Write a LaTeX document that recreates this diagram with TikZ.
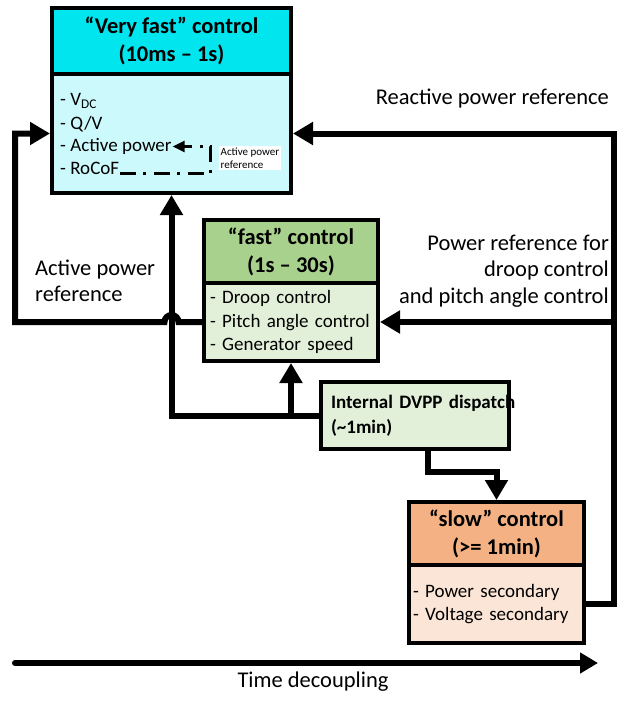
\documentclass[tikz,border=0pt]{standalone}
\usepackage{fontspec}
\setmainfont{Carlito}
\usetikzlibrary{arrows.meta,calc}

\definecolor{vfhead}{HTML}{00E5EE}
\definecolor{vfbody}{HTML}{CCFAFC}
\definecolor{fhead}{HTML}{A9D18E}
\definecolor{fbody}{HTML}{E2F0D9}
\definecolor{shead}{HTML}{F4B183}
\definecolor{sbody}{HTML}{FBE5D6}

\newcommand{\sizeTitle}{\fontsize{22.5}{28}\selectfont}
\newcommand{\sizeLbl}{\fontsize{22.5}{26.5}\selectfont}
\newcommand{\sizeItem}{\fontsize{19}{23.5}\selectfont}
\newcommand{\sizeNote}{\fontsize{11}{12.5}\selectfont}

\tikzset{
	headbox/.style={draw=black,line width=4pt,inner sep=0pt,align=center,font=\sizeTitle\bfseries},
	listbox/.style={draw=black,line width=4pt,inner ysep=0pt,align=left,font=\sizeItem},
	entry/.style={anchor=west,inner sep=1pt,font=\sizeItem},
	txt/.style={inner sep=0pt,font=\sizeLbl},
	notebox/.style={fill=white,inner sep=1.5pt,align=left,font=\sizeNote},
	flow/.style={line width=6pt,-{Triangle[length=20pt,width=22pt]}},
	refline/.style={line width=2.5pt,dash pattern=on 16pt off 7pt on 3pt off 8pt,-{Triangle[length=12pt,width=11pt]}}
}

\begin{document}
\begin{tikzpicture}[x=1pt,y=-1pt]
	\useasboundingbox (0,0) rectangle (624,701);

	% very fast control
	\node[headbox,fill=vfhead,minimum width=239pt,minimum height=66pt] (vft) at (171.5,41) {“Very fast” control\\(10ms – 1s)};
	\node[draw=black,line width=4pt,fill=vfbody,minimum width=239pt,minimum height=119pt] (vfb) at (171.5,133.5) {};
	\node[entry] (vfdc) at (59,101) {- V\textsubscript{DC}};
	\node[entry] (vfqv) at (59,124) {- Q/V};
	\node[entry] (vfact) at (59,146.5) {- Active power};
	\node[entry] (vfrocof) at (59,168.5) {- RoCoF};
	\node[notebox] (vfnote) at (250,158) {Active power\\reference};
	\draw[refline] ($(vfrocof.east)+(0,5)$) -| ($(vfact.east)+(38,0)$) -- (vfact.east);

	% fast control
	\node[headbox,fill=fhead,minimum width=174pt,minimum height=63pt] (ft) at (291,251.5) {“fast” control\\(1s – 30s)};
	\node[listbox,fill=fbody,text width=162pt,inner xsep=6pt,minimum height=78pt] (fb) at (291,322) {- Droop control\\- Pitch angle control\\- Generator speed};

	% dispatch
	\node[draw=black,line width=4pt,fill=fbody,minimum width=188pt,minimum height=67pt,text width=178pt,inner xsep=5pt,align=left,font=\fontsize{19}{25}\selectfont\bfseries] (dvpp) at (415,415.5) {\mbox{\hspace{5pt}Internal DVPP dispatch}\\\hspace{5pt}(\textasciitilde1min)};

	% slow control
	\node[headbox,fill=shead,minimum width=175pt,minimum height=63pt] (slt) at (496.5,533.5) {“slow” control\\(>= 1min)};
	\node[listbox,fill=sbody,text width=167pt,inner xsep=4pt,minimum height=78pt] (slb) at (496.5,604) {- Power secondary\\- Voltage secondary};

	% labels
	\node[txt,anchor=east] (reactlbl) at (609,99) {Reactive power reference};
	\node[txt,anchor=east,align=right] (drooplbl) at (609,271) {Power reference for\\droop control\\and pitch angle control};
	\node[txt,anchor=west,align=left] (activelbl) at (35,281) {Active power\\reference};
	\node[txt] (timelbl) at (313,682) {Time decoupling};

	\coordinate (lft) at (15,322);
	\coordinate (rbus) at (614,0);
	\coordinate (hop) at ($(vfb.south |- fb.west)+(7,0)$);
	\coordinate (tstart) at (15,663);
	\coordinate (tend) at (598,663);

	% feedback lines
	\draw[flow] (fb.west) -- (hop) arc[start angle=0,end angle=-180,radius=7] -- (lft) |- (vfb.west);
	\draw[flow] (slb.east) -- (slb.east -| rbus) |- (vfb.east);
	\draw[flow] (fb.east -| rbus) -- (fb.east);
	\draw[flow] (dvpp.west) -| (vfb.south);
	\draw[flow] (dvpp.west -| fb.south) -- (fb.south);
	\draw[flow] ([xshift=13pt]dvpp.south) -- ++(0,21) -| (slt.north);

	\draw[line width=6pt,line cap=round,-{Triangle[length=18pt,width=20pt]}] (tstart) -- (tend);
\end{tikzpicture}
\end{document}
